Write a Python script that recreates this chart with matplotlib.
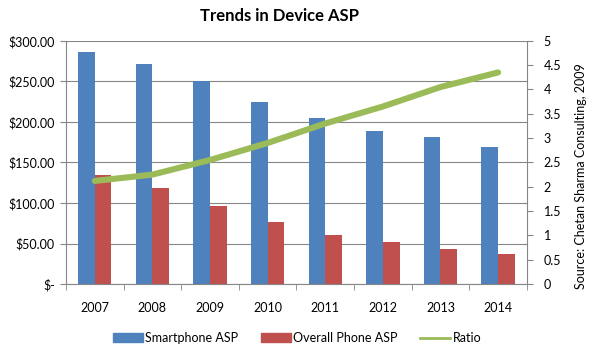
import numpy as np
import matplotlib.pyplot as plt
from matplotlib.ticker import FuncFormatter, MultipleLocator
from matplotlib.lines import Line2D
from matplotlib.patches import Patch

plt.rcParams['font.family'] = ['Lato', 'DejaVu Sans']

# data
years = ['2007', '2008', '2009', '2010', '2011', '2012', '2013', '2014']
smartphone_asp = [286, 272, 250, 225, 204.5, 189, 181.5, 169]
overall_asp = [134.5, 118, 96, 76.5, 61, 51.5, 43, 37.5]
ratio = [2.12, 2.25, 2.55, 2.9, 3.3, 3.65, 4.05, 4.35]

blue = '#4F81BD'
red = '#C0504D'
green = '#9BBB59'
gray = '#868686'

fig = plt.figure(figsize=(5.94, 3.52), dpi=100)
ax = fig.add_axes([0.111, 0.193, 0.776, 0.691])

x = np.arange(len(years))
w = 0.29
ax.bar(x - w/2, smartphone_asp, w, color=blue, zorder=2)
ax.bar(x + w/2, overall_asp, w, color=red, zorder=2)

ax.set_xlim(-0.5, len(years) - 0.5)
ax.set_ylim(0, 300)
ax.yaxis.set_major_locator(MultipleLocator(50))
ax.yaxis.set_major_formatter(FuncFormatter(lambda v, p: '$-' if v == 0 else '${:,.2f}'.format(v)))
ax.grid(axis='y', color=gray, lw=0.8, zorder=0)
ax.set_xticks(x)
ax.set_xticklabels(years)
ax.set_xticks(np.arange(-0.5, len(years)), minor=True)
ax.tick_params(axis='x', which='major', length=0, pad=13, labelsize=9)
ax.tick_params(axis='x', which='minor', length=4, color=gray)
ax.tick_params(axis='y', length=4, color=gray, labelsize=9, pad=4)

ax2 = ax.twinx()
ax2.plot(x, ratio, color=green, lw=4.4, solid_capstyle='round')
ax2.set_ylim(0, 5)
ax2.yaxis.set_major_locator(MultipleLocator(0.5))
ax2.yaxis.set_major_formatter(FuncFormatter(lambda v, p: '{:g}'.format(v)))
ax2.tick_params(axis='y', length=4, color=gray, labelsize=9, pad=8)

for a in (ax, ax2):
    for side in ('top', 'right', 'left', 'bottom'):
        a.spines[side].set_visible(False)
ax.spines['left'].set_visible(True)
ax.spines['bottom'].set_visible(True)
ax2.spines['right'].set_visible(True)
for s in (ax.spines['left'], ax.spines['bottom'], ax2.spines['right']):
    s.set_color(gray)
    s.set_linewidth(0.8)

fig.text(0.47, 0.955, 'Trends in Device ASP', ha='center', va='center',
         fontsize=12, fontweight='bold')
fig.text(0.978, 0.5, 'Source: Chetan Sharma Consulting, 2009', rotation=90,
         ha='center', va='center', fontsize=9)

handles = [Patch(color=blue), Patch(color=red), Line2D([], [], color=green, lw=2)]
fig.legend(handles, ['Smartphone ASP', 'Overall Phone ASP', 'Ratio'],
           loc='center', bbox_to_anchor=(0.5, 0.04), ncol=3, frameon=False,
           fontsize=9, handlelength=2.4, handleheight=0.7, columnspacing=1.8,
           handletextpad=0.2)

fig.savefig('out.png', dpi=100)
